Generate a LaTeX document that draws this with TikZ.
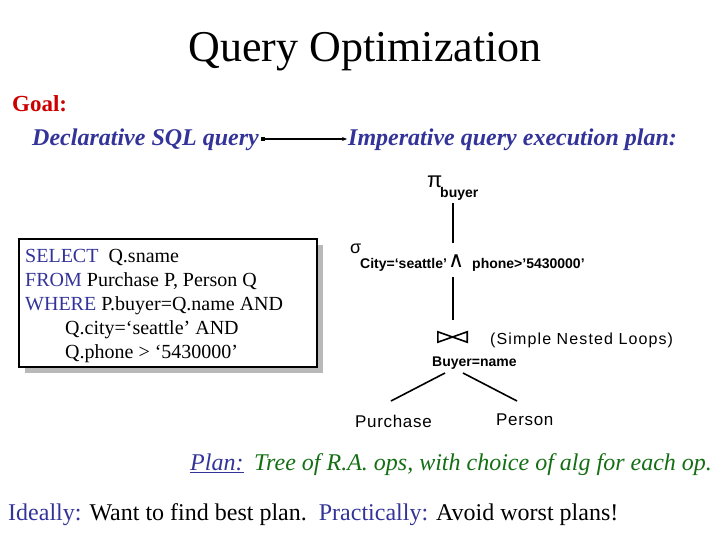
\documentclass[tikz,border=0pt]{standalone}
\usepackage{fontspec}
\setmainfont{Liberation Serif}
\setsansfont{Liberation Sans}
\newfontfamily\dejavu{DejaVu Sans}
\usetikzlibrary{arrows.meta}
\definecolor{dblue}{RGB}{51,51,153}
\definecolor{dred}{RGB}{204,0,0}
\definecolor{dgreen}{RGB}{20,110,20}
\newcommand{\fsz}[1]{\fontsize{#1}{#1}\selectfont}
\begin{document}
\begin{tikzpicture}[x=1pt,y=-1pt,
  txt/.style={inner sep=0pt,anchor=base west},
  big/.style={txt,font=\fsz{24}},
  sql/.style={txt,font=\fsz{20}},
  tsmall/.style={txt,font=\sffamily\bfseries\fsz{14}},
  tlabel/.style={txt,font=\sffamily\fsz{17}\addfontfeature{LetterSpace=4}},
  edge/.style={line width=1.6pt,black},
]
\useasboundingbox (0,0) rectangle (720,540);
\node[inner sep=0pt,anchor=base] (title) at (365,62) {\fsz{44}Query Optimization};
\node[big,font=\bfseries\fsz{23},text=dred] (goal) at (12,112) {Goal:};
\node[big,font=\bfseries\itshape\fsz{24},text=dblue] (decl) at (32,146) {Declarative SQL query};
\node[big,font=\bfseries\itshape\fsz{24},text=dblue] (imp) at (348,146) {Imperative query execution plan:};
\draw[line width=1.4pt,{Square[length=4pt,width=4pt]}-{Stealth[length=5pt,width=4pt]}] ([xshift=2pt,yshift=7pt]decl.base east) -- ([xshift=-1pt,yshift=7pt]imp.base west);

% SQL box
\fill[gray!55] (25,245) rectangle (323,373);
\draw[line width=1.5pt,fill=white] (19,239) rectangle (317,367);
\node[sql] (s1) at (25,262) {\textcolor{dblue}{SELECT}\ \ Q.sname};
\node[sql] (s2) at (25,286) {\textcolor{dblue}{FROM} Purchase P, Person Q};
\node[sql] (s3) at (25,310) {\textcolor{dblue}{WHERE} P.buyer=Q.name AND};
\node[sql] (s4) at (65,334) {Q.city=‘seattle’ AND};
\node[sql] (s5) at (65,358) {Q.phone > ‘5430000’};

% tree
\node[txt,font=\sffamily\fsz{22}] (pi) at (427,188) {π};
\node[tsmall] (buyer) at (440,197) {buyer};
\node[txt,font=\sffamily\fsz{18}] (sigma) at (350,254) {σ};
\node[tsmall] (cond1) at (360,268) {City=‘seattle’};
\node[txt,font=\dejavu\fsz{22}] (wedge) at (448,267) {∧};
\node[tsmall] (cond2) at (472,268) {phone>’5430000’};
\node[inner sep=0pt,minimum width=29pt,minimum height=10pt] (join) at (452.5,337) {};
\draw[line width=1.6pt,line join=miter] (join.north west) -- (join.south east) -- (join.north east) -- (join.south west) -- cycle;
\node[txt,font=\sffamily\fsz{16}\addfontfeature{LetterSpace=7}] (alg) at (490,344) {(Simple Nested Loops)};
\node[tsmall] (jcond) at (432,366) {Buyer=name};
\node[tlabel] (purchase) at (355,427) {Purchase};
\node[tlabel] (person) at (496,425) {Person};

\coordinate (p1) at (453,203);
\coordinate (p2) at (453,243);
\coordinate (p3) at (453,277);
\coordinate (p4) at (453,320);
\coordinate (j1) at (445,373);
\coordinate (j2) at (463,373);
\coordinate (l1) at (391,401);
\coordinate (r1) at (517,401);
\draw[edge] (p1) -- (p2);
\draw[edge] (p3) -- (p4);
\draw[edge] (j1) -- (l1);
\draw[edge] (j2) -- (r1);

% bottom text
\node[big,font=\itshape\fsz{24},text=dblue] (plan) at (190,470) {\underline{Plan:}};
\node[big,font=\itshape\fsz{24},text=dgreen] (tree) at (254,470) {Tree of R.A. ops, with choice of alg for each op.};
\node[big] (ideal) at (8,520) {\textcolor{dblue}{Ideally:} Want to find best plan.\ \ \textcolor{dblue}{Practically:} Avoid worst plans!};
\end{tikzpicture}
\end{document}
